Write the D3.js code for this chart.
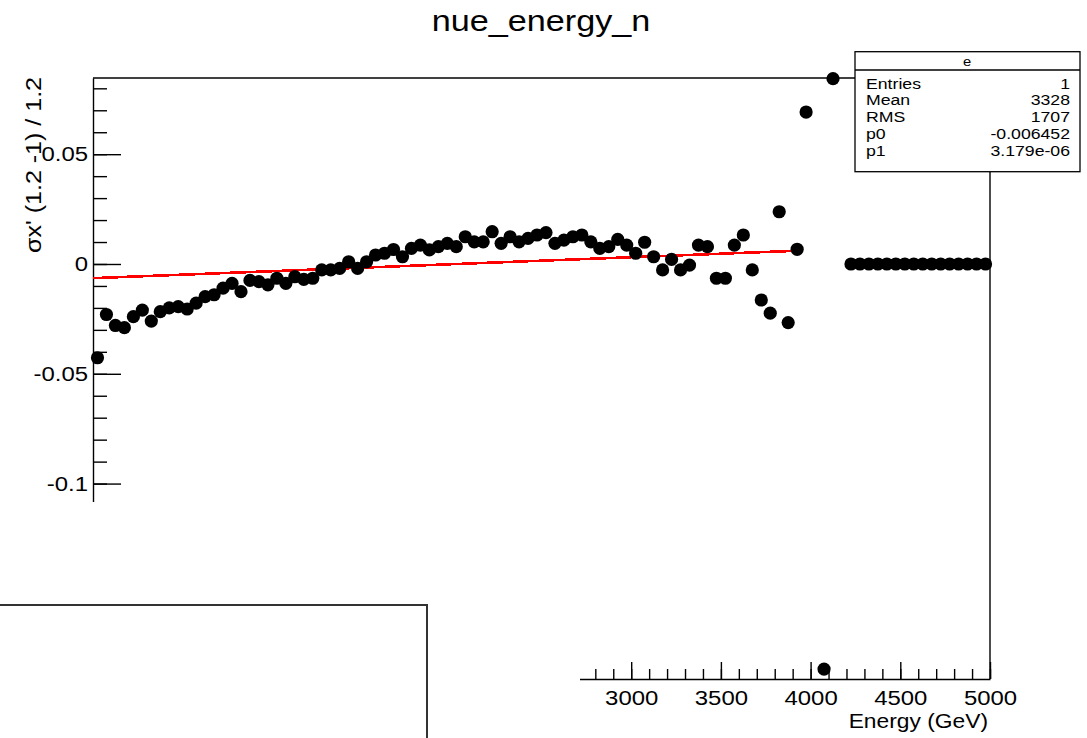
<!DOCTYPE html>
<html>
<head>
<meta charset="utf-8">
<script src="https://cdn.jsdelivr.net/npm/d3@7"></script>
<style>
    body { margin: 0; background: #fff; }
    svg text { font-family: "Liberation Sans", Arial, Helvetica, sans-serif; }
</style>
</head>
<body>
<div id="chart"></div>
<script>
// bin centres (GeV) and bin contents of the histogram
const energies = [
    25, 75, 125, 175, 225, 275, 325, 375, 425, 475,
    525, 575, 625, 675, 725, 775, 825, 875, 925, 975,
    1025, 1075, 1125, 1175, 1225, 1275, 1325, 1375, 1425, 1475,
    1525, 1575, 1625, 1675, 1725, 1775, 1825, 1875, 1925, 1975,
    2025, 2075, 2125, 2175, 2225, 2275, 2325, 2375, 2425, 2475,
    2525, 2575, 2625, 2675, 2725, 2775, 2825, 2875, 2925, 2975,
    3025, 3075, 3125, 3175, 3225, 3275, 3325, 3375, 3425, 3475,
    3525, 3575, 3625, 3675, 3725, 3775, 3825, 3875, 3925, 3975,
    4025, 4075, 4125, 4175, 4225, 4275, 4325, 4375, 4425, 4475,
    4525, 4575, 4625, 4675, 4725, 4775, 4825, 4875, 4925, 4975
];
const values = [
    -0.0427, -0.023, -0.028, -0.029, -0.024, -0.021, -0.026, -0.0217, -0.020, -0.0194,
    -0.0205, -0.0178, -0.0149, -0.014, -0.011, -0.0088, -0.0126, -0.0075, -0.008, -0.0095,
    -0.0065, -0.0088, -0.0058, -0.007, -0.0065, -0.0027, -0.0027, -0.002, 0.001, -0.002,
    0.001, 0.0041, 0.0049, 0.0066, 0.0033, 0.0071, 0.0086, 0.0064, 0.0079, 0.0094,
    0.0079, 0.0124, 0.0101, 0.0101, 0.0147, 0.0094, 0.0124, 0.0101, 0.0117, 0.0132,
    0.0143, 0.0094, 0.0109, 0.0124, 0.0132, 0.0101, 0.0071, 0.0079, 0.0112, 0.0086,
    0.0049, 0.0099, 0.0033, -0.0027, 0.0021, -0.0027, -0.0005, 0.0086, 0.0079, -0.0065,
    -0.0065, 0.0086, 0.0132, -0.0027, -0.0164, -0.0224, 0.0238, -0.0267, 0.0067, 0.0692,
    null, -0.1845, 0.0844, null, 0, 0, 0, 0, 0, 0,
    0, 0, 0, 0, 0, 0, 0, 0, 0, 0
];

const fitParams = [-0.006452, 3.179e-06];
const fitRange = [0, 3930];

const yMajorTicks = [-0.1, -0.05, 0, 0.05];
const xMajorTicks = [0, 500, 1000, 1500, 2000, 2500, 3000, 3500, 4000, 4500, 5000];

const statLabels = ["Entries", "Mean", "RMS", "p0", "p1"];
const statValues = ["1", "3328", "1707", "-0.006452", "3.179e-06"];

const w = 1087;
const h = 738;
const sx = 1.14; // ROOT text comes out a bit wide

const x = d3.scaleLinear().domain([0, 5000]).range([93, 990]);
const y = d3.scaleLinear().domain([-0.189, 0.0847]).range([679, 78]);

const svg = d3.select("#chart")
    .append("svg")
    .attr("width", w)
    .attr("height", h);

const defs = svg.append("defs");
defs.append("clipPath").attr("id", "clip-left")
    .append("rect").attr("x", 0).attr("y", 70).attr("width", 200).attr("height", 432);
defs.append("clipPath").attr("id", "clip-bottom")
    .append("rect").attr("x", 580).attr("y", 560).attr("width", 520).attr("height", 180);

function stretchedText(g, tx, ty, str, size, anchor) {
    return g.append("text")
        .attr("transform", `translate(${tx},${ty}) scale(${sx},1)`)
        .attr("text-anchor", anchor)
        .attr("font-size", size)
        .attr("fill", "#000")
        .text(str);
}

// title
stretchedText(svg, 541, 31, "nue_energy_n", 30, "middle");

// frame: top and right sides
svg.append("line")
    .attr("x1", x.range()[0]).attr("x2", x.range()[1])
    .attr("y1", y.range()[1]).attr("y2", y.range()[1])
    .attr("stroke", "#000").attr("stroke-width", 1.4);
svg.append("line")
    .attr("x1", x.range()[1]).attr("x2", x.range()[1])
    .attr("y1", y.range()[1]).attr("y2", y.range()[0])
    .attr("stroke", "#000").attr("stroke-width", 1.4);

// y axis (ticks point inward)
const yMinor = d3.range(-18, 9).map((k) => k / 100);
const yAxisG = svg.append("g").attr("clip-path", "url(#clip-left)");

yAxisG.append("g")
    .attr("transform", `translate(${x.range()[0]},0)`)
    .call(d3.axisLeft(y).tickValues(yMinor).tickSizeInner(-14).tickSizeOuter(0).tickFormat(""));

const yMajorG = yAxisG.append("g")
    .attr("transform", `translate(${x.range()[0]},0)`)
    .call(d3.axisLeft(y).tickValues(yMajorTicks).tickSizeInner(-28).tickSizeOuter(0)
        .tickPadding(4.4).tickFormat((d) => String(d)));
yMajorG.select(".domain").remove();

// x axis (ticks point up)
const xMinor = d3.range(0, 5001, 100);
const xAxisG = svg.append("g").attr("clip-path", "url(#clip-bottom)");

xAxisG.append("g")
    .attr("transform", `translate(0,${y.range()[0]})`)
    .call(d3.axisBottom(x).tickValues(xMinor).tickSizeInner(-10).tickSizeOuter(0).tickFormat(""));

const xMajorG = xAxisG.append("g")
    .attr("transform", `translate(0,${y.range()[0]})`)
    .call(d3.axisBottom(x).tickValues(xMajorTicks).tickSizeInner(-17).tickSizeOuter(0)
        .tickPadding(11).tickFormat(d3.format("d")));
xMajorG.select(".domain").remove();

svg.selectAll(".tick line, .domain")
    .attr("stroke", "#000")
    .attr("stroke-width", 1.4);

[yMajorG, xMajorG].forEach((g) => {
    g.attr("font-family", null).attr("font-size", null);
    g.selectAll("text")
        .attr("font-size", 21)
        .attr("fill", "#000")
        .attr("transform", `scale(${sx},1)`);
});

// axis titles
stretchedText(svg, 988, 728, "Energy (GeV)", 20, "end");

svg.append("text")
    .attr("transform", `translate(41,77) scale(${sx},1) rotate(-90)`)
    .attr("text-anchor", "end")
    .attr("font-size", 19)
    .attr("textLength", 176)
    .attr("lengthAdjust", "spacingAndGlyphs")
    .text("σx' (1.2 -1) / 1.2");

// fitted straight line
const fitLine = d3.line()
    .x((d) => x(d))
    .y((d) => y(fitParams[0] + fitParams[1] * d));

svg.append("path")
    .datum(fitRange)
    .attr("d", fitLine)
    .attr("fill", "none")
    .attr("stroke", "#ff0000")
    .attr("stroke-width", 2.6)
    .attr("shape-rendering", "crispEdges");

// markers
const points = energies
    .map((e, i) => ({ e: e, v: values[i] }))
    .filter((d) => d.v !== null);

svg.selectAll("circle.pt")
    .data(points)
    .enter()
    .append("circle")
    .attr("class", "pt")
    .attr("cx", (d) => x(d.e))
    .attr("cy", (d) => y(d.v))
    .attr("r", 6.6)
    .attr("fill", "#000");

// stats box
const stats = svg.append("g");
stats.append("rect")
    .attr("x", 855).attr("y", 51.7)
    .attr("width", 225).attr("height", 120)
    .attr("fill", "#fff")
    .attr("stroke", "#000")
    .attr("stroke-width", 1.3);
stats.append("line")
    .attr("x1", 855).attr("x2", 1080)
    .attr("y1", 70).attr("y2", 70)
    .attr("stroke", "#000").attr("stroke-width", 1.3);
stretchedText(stats, 967, 66, "e", 13, "middle");

statLabels.forEach((lab, i) => {
    const by = 88.5 + i * 16.9;
    stretchedText(stats, 866, by, lab, 15.5, "start");
    stretchedText(stats, 1070, by, statValues[i], 15.5, "end");
});

// empty pad box overlapping lower left
svg.append("rect")
    .attr("x", -5).attr("y", 605)
    .attr("width", 432).attr("height", 200)
    .attr("fill", "#fff")
    .attr("stroke", "#333")
    .attr("stroke-width", 2);
</script>
</body>
</html>
